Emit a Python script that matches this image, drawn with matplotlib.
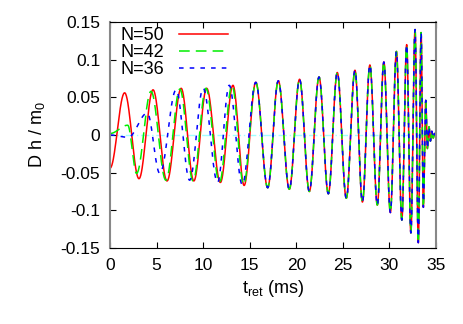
import numpy as np
import matplotlib
matplotlib.use("Agg")
import matplotlib.pyplot as plt

plt.rcParams['font.family'] = ['Liberation Sans', 'DejaVu Sans']

# ---- data: extrema (time in ms, amplitude) ----
tail_t = [15.65, 16.93, 18.07, 19.25, 20.35, 21.4, 22.44, 23.44, 24.4, 25.37,
          26.3, 27.1, 27.9, 28.7, 29.4, 30.1, 30.75, 31.33, 31.85, 32.3,
          32.75, 33.1, 33.4, 33.64, 33.9, 34.07, 34.25, 34.4, 34.55, 34.7,
          34.85, 34.95]
tail_v = [0.070, -0.070, 0.072, -0.072, 0.074, -0.075, 0.077, -0.078, 0.083, -0.084,
          0.086, -0.089, 0.093, -0.093, 0.097, -0.103, 0.111, -0.113, 0.120, -0.130,
          0.140, -0.143, 0.136, -0.096, 0.046, -0.018, 0.011, -0.008, 0.005, -0.004,
          0.002, 0.0]

n50_t = [0.0, 1.57, 3.11, 4.62, 6.12, 7.64, 9.0, 10.38, 11.85, 13.2, 14.4]
n50_v = [-0.044, 0.056, -0.058, 0.060, -0.061, 0.062, -0.061, 0.062, -0.063, 0.066, -0.067]

n42_t = [0.0, 1.9, 2.85, 4.4, 6.0, 7.5, 8.92, 10.3, 11.75, 13.1, 14.35]
n42_v = [0.002, 0.013, -0.051, 0.058, -0.060, 0.061, -0.061, 0.062, -0.063, 0.066, -0.066]

n36_t = [0.0, 1.95, 4.0, 5.35, 7.1, 8.55, 10.0, 11.55, 12.8, 14.2]
n36_v = [0.0, -0.003, 0.029, -0.051, 0.060, -0.060, 0.062, -0.063, 0.066, -0.066]

labels = ["N=50", "N=42", "N=36"]
xticks = [0, 5, 10, 15, 20, 25, 30, 35]
yticks = [-0.15, -0.1, -0.05, 0, 0.05, 0.1, 0.15]
ytick_labels = ["-0.15", "-0.1", "-0.05", "0", "0.05", "0.1", "0.15"]


def smooth(tk, vk, n=40):
    ts, vs = [], []
    for i in range(len(tk) - 1):
        s = np.linspace(0, 1, n, endpoint=False)
        ts.append(tk[i] + (tk[i + 1] - tk[i]) * s)
        vs.append(vk[i] + (vk[i + 1] - vk[i]) * (1 - np.cos(np.pi * s)) / 2)
    ts.append([tk[-1]])
    vs.append([vk[-1]])
    return np.concatenate(ts), np.concatenate(vs)


fig = plt.figure(figsize=(4.63, 3.24), dpi=100)
ax = fig.add_axes([0.2376, 0.2346, 0.7041, 0.6974])

ax.axhline(0, color='#a0ffff', lw=1.0, ls=(0, (6, 2, 1, 2)), zorder=1)

series = [
    (n50_t, n50_v, '#ff0000', '-'),
    (n42_t, n42_v, '#00ee00', (0, (7, 4))),
    (n36_t, n36_v, '#0000ff', (0, (3, 4))),
]
for (tk, vk, c, ls), lab in zip(series, labels):
    t, v = smooth(list(tk) + tail_t, list(vk) + tail_v)
    ax.plot(t, v, color=c, lw=1.1, ls=ls, label=lab, zorder=2)

ax.set_xlim(0, 35)
ax.set_ylim(-0.15, 0.15)
ax.set_xticks(xticks)
ax.set_yticks(yticks)
ax.set_yticklabels(ytick_labels)
ax.tick_params(direction='in', top=True, right=True, labelsize=12.5, length=4, pad=7)
ax.set_xlabel("t$_{\\mathregular{ret}}$ (ms)", fontsize=13, labelpad=4)
ax.set_ylabel("D h / m$_{\\mathregular{0}}$", fontsize=13, labelpad=10)

for s in ['left', 'right']:
    ax.spines[s].set_color('#888888')
    ax.spines[s].set_linewidth(1.5)

leg = ax.legend(loc='upper left', frameon=False, markerfirst=False, fontsize=13,
                handlelength=2.7, handletextpad=0.8, labelspacing=0.0,
                borderaxespad=0.2, bbox_to_anchor=(0.0, 1.025))

fig.savefig("out.png", dpi=100)
